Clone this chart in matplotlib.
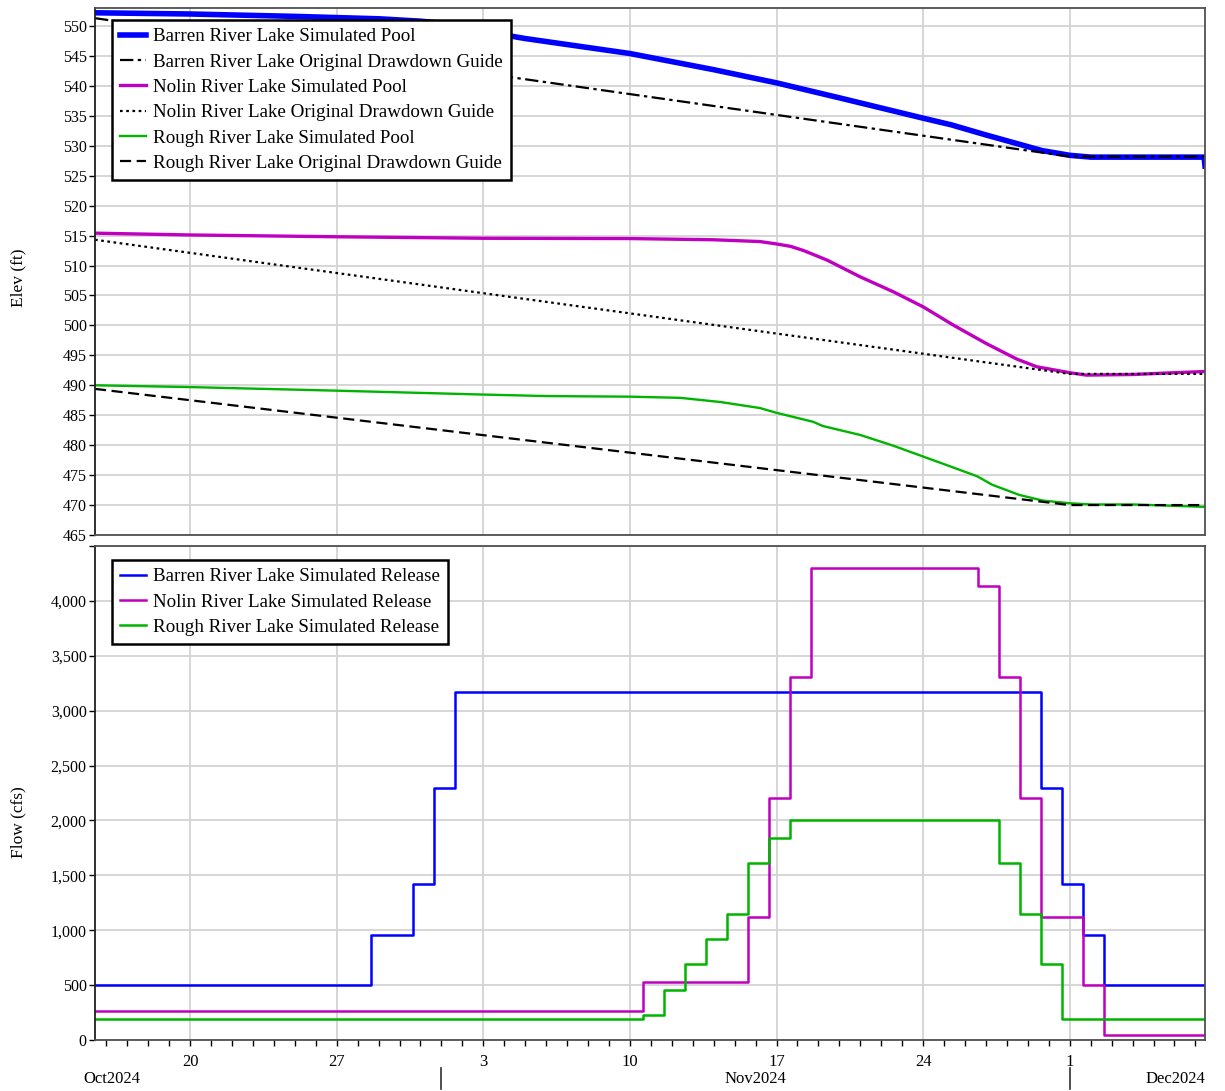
import numpy as np
import pandas as pd
import matplotlib
matplotlib.use('Agg')
import matplotlib.pyplot as plt
import matplotlib.dates as mdates
import matplotlib.transforms as mtransforms
from matplotlib.ticker import FuncFormatter, MultipleLocator

plt.rcParams['font.family'] = ['Liberation Serif', 'DejaVu Serif']

T0 = pd.Timestamp('2024-10-15 11:00')
T1 = pd.Timestamp('2024-12-07 11:00')

# ---- pool elevations (ft) ----
barren_pool_t = ['2024-10-15 11:00', '2024-10-20', '2024-10-25', '2024-10-29', '2024-10-31',
                 '2024-11-01 12:00', '2024-11-02 12:00', '2024-11-03 12:00', '2024-11-05',
                 '2024-11-07', '2024-11-10', '2024-11-14', '2024-11-17', '2024-11-20',
                 '2024-11-24', '2024-11-25 08:00', '2024-11-27', '2024-11-29 16:00',
                 '2024-12-01', '2024-12-02', '2024-12-07 10:00', '2024-12-07 11:00']
barren_pool = [552.2, 552.0, 551.6, 551.2, 550.8, 550.3, 549.5, 548.8, 547.9, 546.9, 545.4,
               542.7, 540.5, 538.0, 534.6, 533.5, 531.8, 529.2, 528.4, 528.1, 528.1, 526.6]

barren_guide_t = ['2024-10-15 11:00', '2024-12-01', '2024-12-07 11:00']
barren_guide = [551.3, 528.2, 528.2]

nolin_pool_t = ['2024-10-15 11:00', '2024-10-20', '2024-10-27', '2024-11-03', '2024-11-10',
                '2024-11-14', '2024-11-16 05:00', '2024-11-17', '2024-11-17 16:00',
                '2024-11-18 07:00', '2024-11-19 10:00', '2024-11-21', '2024-11-22 14:00',
                '2024-11-24', '2024-11-25 10:00', '2024-11-27', '2024-11-28 11:00',
                '2024-11-29 10:00', '2024-12-01', '2024-12-01 19:00', '2024-12-04',
                '2024-12-06', '2024-12-07 11:00']
nolin_pool = [515.4, 515.1, 514.8, 514.55, 514.5, 514.3, 514.0, 513.6, 513.2, 512.5,
              510.9, 508.1, 505.6, 503.1, 500.1, 497.0, 494.4, 493.1,
              492.1, 491.7, 491.8, 492.1, 492.3]

nolin_guide_t = ['2024-10-15 11:00', '2024-12-01', '2024-12-07 11:00']
nolin_guide = [514.3, 491.9, 491.9]

rough_pool_t = ['2024-10-15 11:00', '2024-10-20', '2024-10-27', '2024-11-03', '2024-11-06',
                '2024-11-10', '2024-11-12 10:00', '2024-11-14 08:00', '2024-11-16 05:00',
                '2024-11-17', '2024-11-18 18:00', '2024-11-19 05:00', '2024-11-21',
                '2024-11-22 14:00', '2024-11-24', '2024-11-25 10:00', '2024-11-26 14:00',
                '2024-11-27 07:00', '2024-11-28 14:00', '2024-11-29 17:00', '2024-12-01',
                '2024-12-02', '2024-12-04', '2024-12-07 11:00']
rough_pool = [490.0, 489.7, 489.1, 488.45, 488.2, 488.1, 487.9, 487.2, 486.2, 485.4,
              483.9, 483.2, 481.7, 479.9, 478.1, 476.3, 474.8, 473.4, 471.7, 470.75,
              470.3, 470.1, 470.1, 469.7]

rough_guide_t = ['2024-10-15 11:00', '2024-12-01', '2024-12-07 11:00']
rough_guide = [489.4, 470.0, 470.0]

# ---- releases (cfs), step changes ----
barren_rel_t = ['2024-10-15 11:00', '2024-10-28 15:00', '2024-10-30 15:00', '2024-10-31 15:00',
                '2024-11-01 15:00', '2024-11-29 15:00', '2024-11-30 15:00', '2024-12-01 15:00',
                '2024-12-02 15:00', '2024-12-07 11:00']
barren_rel = [500, 960, 1420, 2300, 3170, 2300, 1420, 960, 500, 500]

nolin_rel_t = ['2024-10-15 11:00', '2024-11-10 15:00', '2024-11-15 15:00', '2024-11-16 15:00',
               '2024-11-17 15:00', '2024-11-18 15:00', '2024-11-26 15:00', '2024-11-27 15:00',
               '2024-11-28 15:00', '2024-11-29 15:00', '2024-12-01 15:00', '2024-12-02 15:00',
               '2024-12-07 11:00']
nolin_rel = [265, 530, 1120, 2200, 3310, 4300, 4140, 3310, 2200, 1120, 500, 45, 45]

rough_rel_t = ['2024-10-15 11:00', '2024-11-10 15:00', '2024-11-11 15:00', '2024-11-12 15:00',
               '2024-11-13 15:00', '2024-11-14 15:00', '2024-11-15 15:00', '2024-11-16 15:00',
               '2024-11-17 15:00', '2024-11-27 15:00', '2024-11-28 15:00', '2024-11-29 15:00',
               '2024-11-30 15:00', '2024-12-07 11:00']
rough_rel = [190, 225, 460, 690, 920, 1150, 1610, 1840, 2000, 1610, 1150, 690, 190, 190]

BLUE = '#0000FF'
MAGENTA = '#C000C0'
GREEN = '#00B400'
GRID = '#D3D3D3'


def dt(s):
    return pd.to_datetime(s, format='ISO8601')


fig = plt.figure(figsize=(12.25, 10.91), dpi=100)
ax1 = fig.add_axes([95 / 1225, 1 - 535 / 1091, 1110 / 1225, 527 / 1091])
ax2 = fig.add_axes([95 / 1225, 1 - 1040 / 1091, 1110 / 1225, 494 / 1091], sharex=ax1)

# top panel
ax1.plot(dt(barren_pool_t), barren_pool, color=BLUE, lw=4, label='Barren River Lake Simulated Pool')
ax1.plot(dt(barren_guide_t), barren_guide, color='black', lw=1.6, ls=(0, (6, 2, 1.5, 2)),
         label='Barren River Lake Original Drawdown Guide')
ax1.plot(dt(nolin_pool_t), nolin_pool, color=MAGENTA, lw=2.4, label='Nolin River Lake Simulated Pool')
ax1.plot(dt(nolin_guide_t), nolin_guide, color='black', lw=1.6, ls=(0, (1.2, 1.6)),
         label='Nolin River Lake Original Drawdown Guide')
ax1.plot(dt(rough_pool_t), rough_pool, color=GREEN, lw=1.7, label='Rough River Lake Simulated Pool')
ax1.plot(dt(rough_guide_t), rough_guide, color='black', lw=1.6, ls=(0, (5, 2.5)),
         label='Rough River Lake Original Drawdown Guide')

ax1.set_ylim(465, 553)
ax1.yaxis.set_major_locator(MultipleLocator(5))

# bottom panel
ax2.plot(dt(barren_rel_t), barren_rel, color=BLUE, lw=1.8, drawstyle='steps-post',
         label='Barren River Lake Simulated Release')
ax2.plot(dt(nolin_rel_t), nolin_rel, color=MAGENTA, lw=1.8, drawstyle='steps-post',
         label='Nolin River Lake Simulated Release')
ax2.plot(dt(rough_rel_t), rough_rel, color=GREEN, lw=1.8, drawstyle='steps-post',
         label='Rough River Lake Simulated Release')
ax2.set_ylim(0, 4500)
ax2.yaxis.set_major_locator(MultipleLocator(500))
ax2.yaxis.set_major_formatter(FuncFormatter(lambda v, p: f'{v:,.0f}' if v <= 4000 else ''))

ax2.set_xlim(T0, T1)
ax2.xaxis.set_major_locator(mdates.WeekdayLocator(byweekday=mdates.SU))
ax2.xaxis.set_minor_locator(mdates.DayLocator())
ax2.xaxis.set_major_formatter(FuncFormatter(lambda v, p: str(mdates.num2date(v).day)))

for ax in (ax1, ax2):
    ax.set_facecolor('white')
    ax.grid(True, which='major', color=GRID, lw=1.3)
    ax.set_axisbelow(True)
    for s in ax.spines.values():
        s.set_color('#505050')
        s.set_linewidth(1.3)
    ax.spines['left'].set_color('#202020')
    ax.tick_params(axis='y', which='major', length=4, width=1, labelsize=11.5, pad=2,
                   colors='black', direction='out')

ax1.tick_params(axis='x', which='both', length=0, labelbottom=False)
ax2.tick_params(axis='x', which='both', length=4, width=1, direction='out')
ax2.tick_params(axis='x', which='major', labelsize=12, pad=6)

leg_kw = dict(loc='upper left', borderaxespad=0, fontsize=13.7, frameon=True, fancybox=False,
              framealpha=1, handlelength=1.35, handletextpad=0.4, labelspacing=0.42,
              borderpad=0.42)
leg1 = ax1.legend(bbox_to_anchor=(17 / 1110, 1 - 12 / 527), **leg_kw)
leg2 = ax2.legend(bbox_to_anchor=(17 / 1110, 1 - 14 / 494), **leg_kw)
for leg in (leg1, leg2):
    leg.get_frame().set_edgecolor('black')
    leg.get_frame().set_linewidth(1.8)

# month row under the day labels
btrans = mtransforms.blended_transform_factory(ax2.transData, ax2.transAxes)
ax2.text(-12 / 1110, -39 / 494, 'Oct2024', transform=ax2.transAxes, ha='left', va='center', fontsize=12)
ax2.text(pd.Timestamp('2024-11-16'), -39 / 494, 'Nov2024', transform=btrans, ha='center',
         va='center', fontsize=12)
ax2.text(1.0, -39 / 494, 'Dec2024', transform=ax2.transAxes, ha='right', va='center', fontsize=12)
for m in ['2024-11-01', '2024-12-01']:
    d = pd.Timestamp(m)
    ax2.plot([d, d], [-28 / 494, -49 / 494], transform=btrans, color='#303030', lw=1.2,
             clip_on=False)

fig.text(18 / 1225, 1 - 278 / 1091, 'Elev (ft)', rotation=90, ha='center', va='center', fontsize=12.5)
fig.text(18 / 1225, 1 - 822 / 1091, 'Flow (cfs)', rotation=90, ha='center', va='center', fontsize=12.5)

fig.savefig('out.png', dpi=100, facecolor='white')
